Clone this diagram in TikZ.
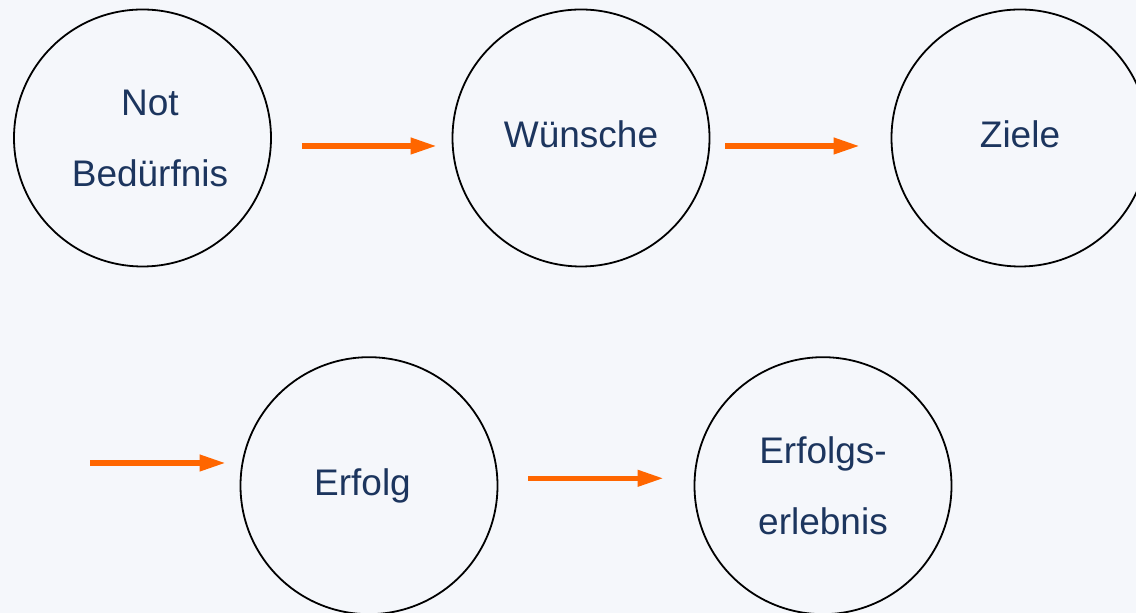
\documentclass[tikz,border=0pt]{standalone}
\usepackage{fontspec}
\setmainfont{Liberation Sans}
\usetikzlibrary{arrows.meta}
\definecolor{bgpale}{HTML}{F5F7FB}
\definecolor{navytext}{HTML}{1C355E}
\definecolor{flowora}{HTML}{FF6600}
\tikzset{
	stage/.style={circle, draw=black, line width=0.9pt, minimum size=128.5pt, inner sep=0pt,
		text=navytext, align=center, font=\fontsize{18.5pt}{35.5pt}\selectfont},
	oneline/.style={text depth=3.9pt},
	flow/.style={draw=flowora, line width=2.6pt, -{Triangle[length=13pt,width=7.8pt]}}
}
\begin{document}
\begin{tikzpicture}[x=0.5pt, y=-0.5pt]
			\fill[bgpale] (0,0) rectangle (1136,613);
			\useasboundingbox (0,0) rectangle (1136,613);
			\node[stage] (not) at (142.5,138) {\hspace*{7.5pt}Not\\\hspace*{7.5pt}Bedürfnis};
			\node[stage, oneline] (wuensche) at (581,138) {Wünsche};
			\node[stage, oneline] (ziele) at (1020,138) {Ziele};
			\node[stage] (erfolg) at (369,485.7) {Erfolg\hspace*{6.5pt}};
			\node[stage] (erlebnis) at (823,485.7) {Erfolgs-\\erlebnis};
			\coordinate (zufluss) at (90,463);
			\draw[flow] ([xshift=15pt, yshift=-4pt]not.east) -- ([xshift=-7.5pt, yshift=-4pt]wuensche.west);
			\draw[flow] ([xshift=7.5pt, yshift=-4pt]wuensche.east) -- ([xshift=-15.5pt, yshift=-4pt]ziele.west);
			\draw[flow] (zufluss) -- ([xshift=-7pt]erfolg.west |- zufluss);
			\draw[flow] ([xshift=15pt, yshift=3.7pt]erfolg.east) -- ([xshift=-15pt, yshift=3.7pt]erlebnis.west);
		\end{tikzpicture}
\end{document}
